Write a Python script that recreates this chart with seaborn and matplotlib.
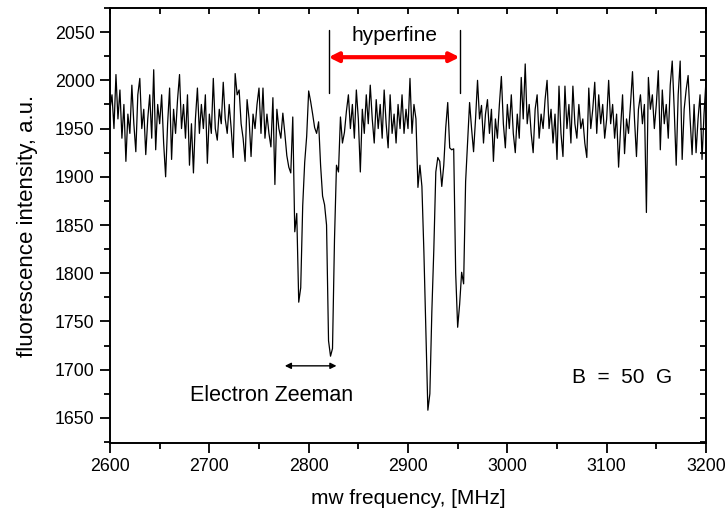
import numpy as np
import pandas as pd
import matplotlib
matplotlib.use("Agg")
import matplotlib.pyplot as plt
import seaborn as sns
from matplotlib.ticker import MultipleLocator

# ---- data ----
freq_start, freq_stop, freq_step = 2600, 3200, 2
intensity = [
    1970, 1985, 1950, 2006, 1960, 1990, 1940, 1975, 1916, 1965,   # 2600
    1945, 1995, 1955, 1926, 1985, 2002, 1950, 1970, 1923, 1960,   # 2620
    1985, 1940, 2011, 1928, 1975, 1955, 1985, 1935, 1900, 1955,   # 2640
    1992, 1918, 1970, 1945, 1980, 2006, 1950, 1975, 1940, 1985,   # 2660
    1912, 1955, 1904, 1960, 1992, 1945, 1975, 1950, 1985, 1914,   # 2680
    1965, 1945, 2002, 1950, 1938, 1970, 1955, 1998, 1960, 1945,   # 2700
    1975, 1950, 1920, 2007, 1985, 1990, 1955, 1940, 1916, 1980,   # 2720
    1960, 1921, 1965, 1950, 1975, 1992, 1945, 1992, 1940, 1965,   # 2740
    1945, 1931, 1982, 1892, 1970, 1950, 1940, 1966, 1945, 1922,   # 2760
    1910, 1904, 1962, 1843, 1862, 1770, 1785, 1870, 1915, 1942,   # 2780
    1989, 1978, 1965, 1951, 1945, 1957, 1912, 1880, 1871, 1850,   # 2800
    1730, 1714, 1722, 1835, 1912, 1905, 1962, 1935, 1946, 1968,   # 2820
    1985, 1950, 1975, 1940, 1990, 1960, 1905, 1970, 1945, 1985,   # 2840
    1955, 1995, 1960, 1935, 1980, 1950, 1975, 1940, 1990, 1955,   # 2860
    1930, 1985, 1945, 1965, 1935, 1975, 1950, 1985, 1945, 1970,   # 2880
    1950, 2002, 1945, 1975, 1960, 1889, 1912, 1890, 1822, 1740,   # 2900
    1658, 1675, 1760, 1825, 1905, 1920, 1916, 1890, 1912, 1951,   # 2920
    1977, 1930, 1928, 1929, 1800, 1744, 1768, 1801, 1789, 1895,   # 2940
    1935, 1977, 1950, 1926, 1960, 2000, 1960, 1974, 1935, 1965,   # 2960
    1980, 1945, 1970, 1916, 1960, 1940, 1975, 2004, 1955, 1930,   # 2980
    1975, 1950, 1985, 1945, 1925, 1965, 1940, 2003, 1960, 2017,   # 3000
    1955, 1975, 1945, 1925, 1970, 1985, 1940, 1965, 1950, 1980,   # 3020
    2000, 1950, 1970, 1935, 1965, 1918, 1994, 1945, 1921, 1994,   # 3040
    1950, 1975, 1935, 1994, 1955, 1940, 1975, 1950, 1960, 1935,   # 3060
    1920, 1992, 1950, 1970, 1998, 1945, 1985, 1955, 1975, 1940,   # 3080
    1960, 2000, 1955, 1975, 1940, 1965, 1910, 1950, 1985, 1924,   # 3100
    1960, 1945, 1975, 2009, 1960, 1921, 1970, 1985, 1955, 1975,   # 3120
    1863, 2003, 1970, 1985, 1950, 1975, 2010, 1928, 1990, 1955,   # 3140
    1975, 1940, 1995, 2020, 1970, 1912, 1985, 2020, 1918, 1970,   # 3160
    1990, 2005, 1960, 1923, 1975, 1925, 1960, 1985, 1918, 1965,   # 3180
    2000,                                                         # 3200
]
frequency = np.arange(freq_start, freq_stop + freq_step, freq_step)

# annotation values
hyperfine_lines = [2820, 2952]
hyperfine_y = 2024
zeeman_arrow = [2776, 2828]
zeeman_y = 1704

x_ticks = [2600, 2700, 2800, 2900, 3000, 3100, 3200]
y_ticks = [1650, 1700, 1750, 1800, 1850, 1900, 1950, 2000, 2050]

df = pd.DataFrame({"freq": frequency, "fluor": intensity})

sns.set_style("ticks")
plt.rcParams["font.family"] = ["Liberation Sans", "DejaVu Sans"]
plt.rcParams["text.color"] = "black"
plt.rcParams["axes.labelcolor"] = "black"

fig = plt.figure(figsize=(7.25, 5.15), dpi=100)
ax = fig.add_axes([110 / 725, 72 / 515, 596 / 725, 435 / 515])

sns.lineplot(data=df, x="freq", y="fluor", ax=ax, color="black",
             linewidth=0.9, sort=False, estimator=None)

ax.set_xlim(2600, 3200)
ax.set_ylim(1624, 2075)
ax.set_xticks(x_ticks)
ax.set_yticks(y_ticks)
ax.xaxis.set_minor_locator(MultipleLocator(50))
ax.yaxis.set_minor_locator(MultipleLocator(25))

for s in ax.spines.values():
    s.set_linewidth(1.4)
    s.set_color("black")
    s.set_visible(True)

ax.tick_params(axis="both", which="major", direction="out", length=7,
               width=1.3, labelsize=12.8, colors="black", labelcolor="black",
               pad=4)
ax.tick_params(axis="both", which="minor", direction="out", length=4,
               width=1.3, colors="black")
ax.tick_params(which="both", top=True, right=True)
# mirrored ticks on top/right point inward
for t in ax.xaxis.get_major_ticks() + ax.xaxis.get_minor_ticks():
    t.tick2line.set_marker(3)  # TICKDOWN
    t.tick2line.set_markersize(4)
for t in ax.yaxis.get_major_ticks() + ax.yaxis.get_minor_ticks():
    t.tick2line.set_marker(0)  # TICKLEFT
    t.tick2line.set_markersize(4)

ax.set_xlabel("mw frequency, [MHz]", fontsize=15, labelpad=10, color="black")
ax.set_ylabel("fluorescence intensity, a.u.", fontsize=16, labelpad=12,
              color="black")

# hyperfine marker
for xv in hyperfine_lines:
    ax.plot([xv, xv], [1987, 2052], color="black", linewidth=1.0)
ax.annotate("", xy=(hyperfine_lines[0], hyperfine_y),
            xytext=(hyperfine_lines[1], hyperfine_y),
            arrowprops=dict(arrowstyle="<|-|>", color="red", lw=3,
                            mutation_scale=14, shrinkA=0, shrinkB=0))
ax.text(sum(hyperfine_lines) / 2, 2047, "hyperfine", ha="center",
        va="center", fontsize=15, color="black")

# electron Zeeman marker
ax.annotate("", xy=(zeeman_arrow[0], zeeman_y), xytext=(zeeman_arrow[1], zeeman_y),
            arrowprops=dict(arrowstyle="<|-|>", color="black", lw=1.0,
                            mutation_scale=9, shrinkA=0, shrinkB=0))
ax.text(2763, 1673, "Electron Zeeman", ha="center", va="center",
        fontsize=15.5, color="black")
ax.text(3116, 1692, "B  =  50  G", ha="center", va="center", fontsize=15,
        color="black")

fig.savefig("out.png", dpi=100)
